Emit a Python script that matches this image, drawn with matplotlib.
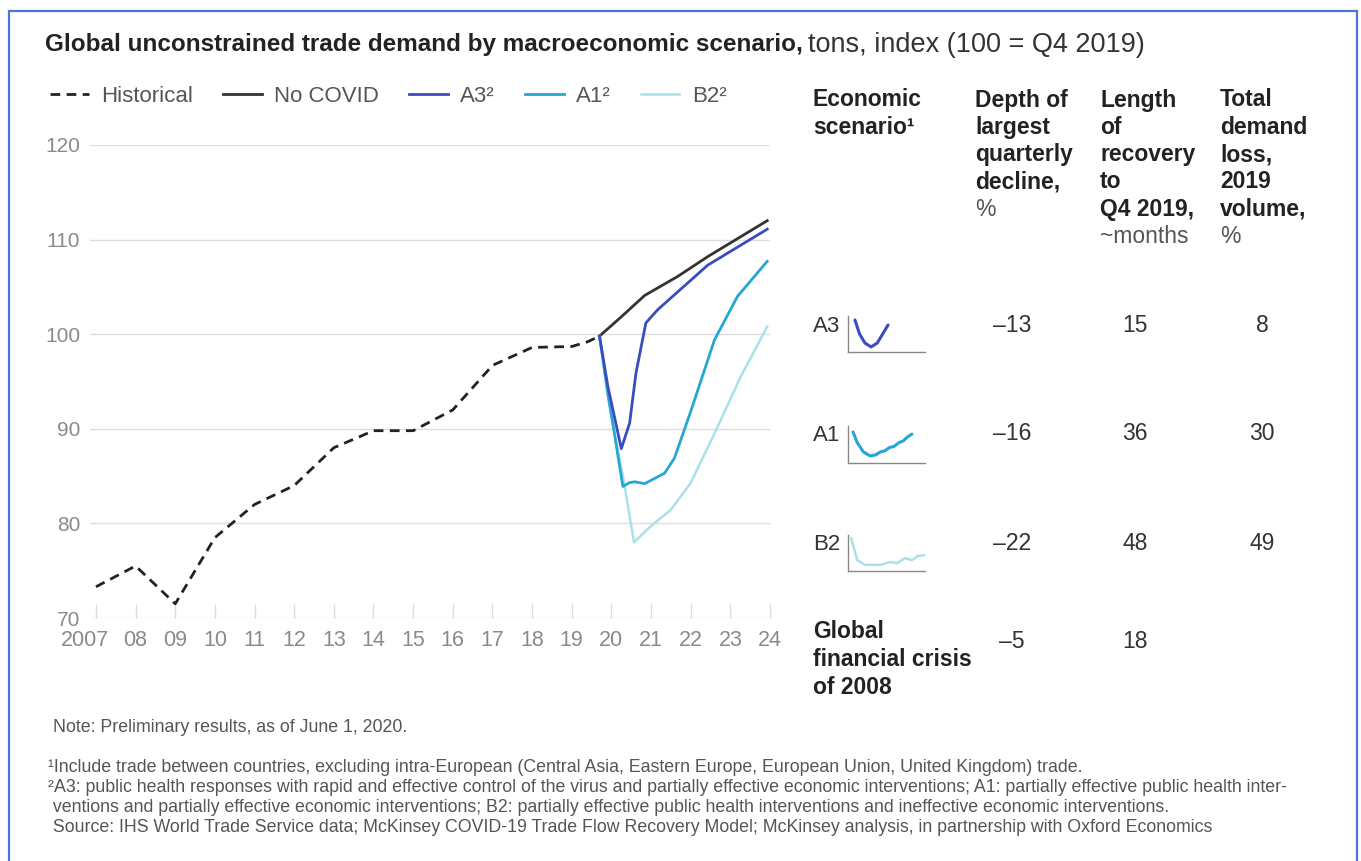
import matplotlib
matplotlib.use("Agg")
import matplotlib.pyplot as plt
from matplotlib.patches import Rectangle
from matplotlib.transforms import ScaledTranslation

plt.rcParams['font.family'] = ['Liberation Sans', 'DejaVu Sans']

W, H = 1361, 861

# Data (index, 100 = Q4 2019)
hist_x = [2007, 2008, 2009, 2010, 2011, 2012, 2013, 2014, 2015, 2016, 2017, 2018, 2019, 2019.4, 2019.7]
hist_y = [73.3, 75.5, 71.5, 78.5, 82.0, 84.0, 88.0, 89.8, 89.8, 92.0, 96.7, 98.6, 98.7, 99.2, 99.8]

nocovid_x = [2019.7, 2020.24, 2020.84, 2021.67, 2022.43, 2023.93]
nocovid_y = [99.8, 101.8, 104.1, 106.1, 108.2, 112.0]

a3_x = [2019.7, 2019.91, 2020.25, 2020.46, 2020.62, 2020.87, 2021.17, 2022.43, 2023.93]
a3_y = [99.8, 94.5, 87.9, 90.6, 95.9, 101.2, 102.6, 107.3, 111.1]

a1_x = [2019.7, 2019.91, 2020.29, 2020.45, 2020.59, 2020.84, 2021.34, 2021.59, 2021.99, 2022.60, 2023.18, 2023.93]
a1_y = [99.8, 93.8, 83.9, 84.3, 84.4, 84.2, 85.3, 86.9, 91.7, 99.4, 104.0, 107.7]

b2_x = [2019.7, 2019.91, 2020.29, 2020.57, 2020.99, 2021.49, 2021.99, 2022.60, 2023.26, 2023.93]
b2_y = [99.8, 93.3, 85.0, 78.0, 79.7, 81.4, 84.2, 89.5, 95.5, 100.8]

years = list(range(2007, 2025))
year_labels = ['2007'] + ['%02d' % (y % 100) for y in years[1:]]

# table data
scen_names = ['A3', 'A1', 'B2']
depth = ['\u201313', '\u201316', '\u201322']
length = ['15', '36', '48']
loss = ['8', '30', '49']
gfc_depth = '\u20135'
gfc_length = '18'

# sparkline shapes
spark_a3_x = [0.9, 1.5, 2.2, 3.0, 3.8, 4.5, 5.2]
spark_a3_y = [0.89, 0.5, 0.25, 0.14, 0.25, 0.5, 0.75]
spark_a1_x = [0.65, 1.2, 2.0, 2.9, 3.6, 4.2, 4.8, 5.4, 6.0, 6.6, 7.2, 7.7, 8.3]
spark_a1_y = [0.84, 0.55, 0.3, 0.19, 0.22, 0.3, 0.33, 0.42, 0.45, 0.55, 0.6, 0.7, 0.78]
spark_b2_x = [0.4, 1.2, 2.2, 4.2, 5.5, 6.4, 7.4, 8.3, 9.1, 10]
spark_b2_y = [0.92, 0.3, 0.17, 0.17, 0.25, 0.22, 0.36, 0.3, 0.42, 0.44]

c_hist = '#222222'
c_nocovid = '#333333'
c_a3 = '#3a4cc0'
c_a1 = '#27a6d4'
c_b2 = '#a9e1e8'
c_tick = '#8a8a8a'
c_txt = '#222222'


def fx(x):
    return x / W


def fy(y):
    return 1 - y / H


fig = plt.figure(figsize=(13.61, 8.61), dpi=100)

# main chart
ax = fig.add_axes([fx(90), fy(618), fx(770) - fx(90), fy(145) - fy(618)])
ax.plot(hist_x, hist_y, color=c_hist, lw=2, ls=(0, (3.5, 2.3)), label='Historical')
ax.plot(nocovid_x, nocovid_y, color=c_nocovid, lw=2, label='No COVID')
ax.plot(b2_x, b2_y, color=c_b2, lw=1.8, label='B2\u00b2')
ax.plot(a1_x, a1_y, color=c_a1, lw=2, label='A1\u00b2')
ax.plot(a3_x, a3_y, color=c_a3, lw=2, label='A3\u00b2')

ax.set_xlim(2006.85, 2023.95)
ax.set_ylim(70, 120)
ax.set_yticks([70, 80, 90, 100, 110, 120])
ax.set_xticks(years)
ax.set_xticklabels(year_labels)
ax.grid(axis='y', color='#dddddd', lw=1)
ax.set_axisbelow(True)
for s in ax.spines.values():
    s.set_visible(False)
ax.tick_params(axis='y', length=0, labelsize=15, labelcolor=c_tick, pad=7)
ax.tick_params(axis='x', direction='in', length=10, color='#dddddd', width=1,
               labelsize=15.5, labelcolor=c_tick, pad=9)
# first year label sits left of its tick
first = ax.get_xticklabels()[0]
first.set_transform(first.get_transform() + ScaledTranslation(-0.11, 0, fig.dpi_scale_trans))

handles, labels = ax.get_legend_handles_labels()
order = [0, 1, 4, 3, 2]
leg = fig.legend([handles[i] for i in order], [labels[i] for i in order],
                 loc='center left', bbox_to_anchor=(fx(50), fy(96)), ncol=5,
                 frameon=False, fontsize=16, handlelength=1.75, handletextpad=0.55,
                 columnspacing=1.35, borderaxespad=0, borderpad=0)
for t in leg.get_texts():
    t.set_color('#555555')

# title
t1 = fig.text(fx(45), fy(45), 'Global unconstrained trade demand by macroeconomic scenario,',
              fontsize=17.5, fontweight='bold', color=c_txt, va='center')
fig.canvas.draw()
bb = t1.get_window_extent()
fig.text(bb.x1 / W + 0.004, fy(45), 'tons, index (100 = Q4 2019)', fontsize=19.5,
         color='#333333', va='center')

# table headers
hdr_cols = [813, 975, 1100, 1220]
hdr_lines = [
    [('Economic', 'bold'), ('scenario\u00b9', 'bold')],
    [('Depth of', 'bold'), ('largest', 'bold'), ('quarterly', 'bold'), ('decline,', 'bold'), ('%', 'normal')],
    [('Length', 'bold'), ('of', 'bold'), ('recovery', 'bold'), ('to', 'bold'), ('Q4 2019,', 'bold'), ('~months', 'normal')],
    [('Total', 'bold'), ('demand', 'bold'), ('loss,', 'bold'), ('2019', 'bold'), ('volume,', 'bold'), ('%', 'normal')],
]
for x, lines in zip(hdr_cols, hdr_lines):
    for i, (s, w) in enumerate(lines):
        fig.text(fx(x), fy(100 + 27.3 * i), s, fontsize=16.5, fontweight=w,
                 color=c_txt if w == 'bold' else '#555555', va='center')

# table rows
row_y = [327, 436, 545]
for name, d, l, lo, y in zip(scen_names, depth, length, loss, row_y):
    fig.text(fx(813), fy(y), name, fontsize=16, color='#333333', va='center')
    fig.text(fx(1012), fy(y - 2), d, fontsize=16.5, color='#333333', va='center', ha='center')
    fig.text(fx(1135), fy(y - 2), l, fontsize=16.5, color='#333333', va='center', ha='center')
    fig.text(fx(1262), fy(y - 2), lo, fontsize=16.5, color='#333333', va='center', ha='center')

for i, s in enumerate(['Global', 'financial crisis', 'of 2008']):
    fig.text(fx(813), fy(632 + 28 * i), s, fontsize=16.5, fontweight='bold', color=c_txt, va='center')
fig.text(fx(1012), fy(642), gfc_depth, fontsize=16.5, color='#333333', va='center', ha='center')
fig.text(fx(1135), fy(642), gfc_length, fontsize=16.5, color='#333333', va='center', ha='center')

# sparklines
sparks = [(spark_a3_x, spark_a3_y, c_a3, 316, 352, 2.2),
          (spark_a1_x, spark_a1_y, c_a1, 426, 463, 2.2),
          (spark_b2_x, spark_b2_y, c_b2, 535, 571, 1.8)]
for sx, sy, c, top, bot, lw in sparks:
    sa = fig.add_axes([fx(848), fy(bot), fx(925) - fx(848), fy(top) - fy(bot)])
    sa.plot(sx, sy, color=c, lw=lw, solid_capstyle='round')
    sa.set_xlim(0, 10)
    sa.set_ylim(0, 1)
    sa.set_xticks([])
    sa.set_yticks([])
    sa.patch.set_alpha(0)
    for k in ['top', 'right']:
        sa.spines[k].set_visible(False)
    for k in ['left', 'bottom']:
        sa.spines[k].set_color('#888888')
        sa.spines[k].set_linewidth(1)

# footnotes
fig.text(fx(53), fy(727), 'Note: Preliminary results, as of June 1, 2020.', fontsize=12.8,
         color='#555555', va='center')
notes = [
    '\u00b9Include trade between countries, excluding intra-European (Central Asia, Eastern Europe, European Union, United Kingdom) trade.',
    '\u00b2A3: public health responses with rapid and effective control of the virus and partially effective economic interventions; A1: partially effective public health inter-',
    ' ventions and partially effective economic interventions; B2: partially effective public health interventions and ineffective economic interventions.',
    ' Source: IHS World Trade Service data; McKinsey COVID-19 Trade Flow Recovery Model; McKinsey analysis, in partnership with Oxford Economics',
]
for i, s in enumerate(notes):
    fig.text(fx(48), fy(767 + 20 * i), s, fontsize=12.8, color='#555555', va='center')

# frame
fig.add_artist(Rectangle((fx(9), fy(875)), fx(1357) - fx(9), fy(11) - fy(875),
                         transform=fig.transFigure, fill=False, edgecolor='#4a78d0',
                         lw=1.6, clip_on=False))

fig.savefig('out.png', dpi=100)
